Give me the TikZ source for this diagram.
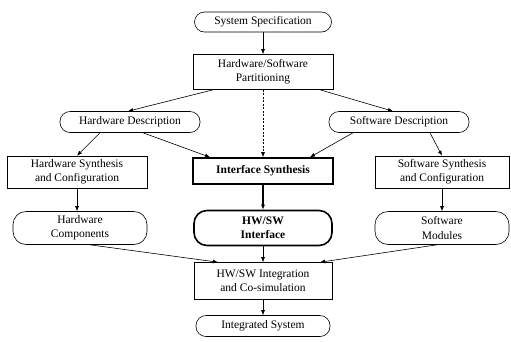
\documentclass[tikz,border=0pt]{standalone}
\usepackage{fontspec}
\setmainfont{Liberation Serif}
\usetikzlibrary{arrows,arrows.meta}

\begin{document}
\begin{tikzpicture}[x=1pt,y=-1pt]
      \tikzstyle{every node}=[draw,align=center,inner sep=0pt,line width=0.6pt,
        font=\fontsize{11.5}{14}\selectfont]
      \tikzstyle{oval}=[rounded corners=10pt]
      \tikzstyle{bigoval}=[rounded corners=13pt]
      \tikzstyle{heavy}=[line width=1.6pt,font=\fontsize{11.5}{14}\selectfont\bfseries]
      \tikzstyle{arr}=[-{Latex[length=5pt,width=4pt]},line width=0.6pt]
      \useasboundingbox (0,0) rectangle (511,341);

      \node[oval,minimum width=137pt,minimum height=20pt] (n1) at (263,22) {System Specification};
      \node[minimum width=140pt,minimum height=35pt] (n2) at (263,72) {Hardware/Software\\Partitioning};
      \node[oval,minimum width=140pt,minimum height=21pt] (n3) at (130,122) {Hardware Description};
      \node[oval,minimum width=140pt,minimum height=21pt] (n4) at (399,122) {Software Description};
      \node[minimum width=140pt,minimum height=32pt] (n5) at (77,172) {Hardware Synthesis\\and Configuration};
      \node[heavy,minimum width=140pt,minimum height=26pt] (n6) at (263,171) {Interface Synthesis};
      \node[minimum width=134pt,minimum height=32pt] (n7) at (442,172) {Software Synthesis\\and Configuration};
      \node[bigoval,minimum width=134pt,minimum height=33pt] (n8) at (80,228) {Hardware\\Components};
      \node[bigoval,heavy,minimum width=138pt,minimum height=35pt] (n9) at (263,228) {HW/SW\\Interface};
      \node[bigoval,minimum width=134pt,minimum height=33pt] (n10) at (442,228) {Software\\Modules};
      \node[minimum width=138pt,minimum height=37pt] (n11) at (263,281) {HW/SW Integration\\and Co-simulation};
      \node[oval,minimum width=134pt,minimum height=21pt] (n12) at (263,326) {Integrated System};

      \draw[arr] (n1) -- (n2);
      \draw[arr] ([xshift=-50pt]n2.south) -- ([xshift=-2pt]n3.north);
      \draw[arr] ([xshift=57pt]n2.south) -- ([xshift=-6pt]n4.north);
      \draw[arr,dash pattern=on 2pt off 1.5pt] (n2) -- (n6);
      \draw[arr] ([xshift=-30pt]n3.south) -- (n5.north);
      \draw[arr] ([xshift=13pt]n3.south) -- ([xshift=-53pt]n6.north);
      \draw[arr] ([xshift=-46pt]n4.south) -- ([xshift=47pt]n6.north);
      \draw[arr] ([xshift=31pt]n4.south) -- (n7.north);
      \draw[arr] (n5.south) -- (n5.south |- n8.north);
      \draw[arr,line width=1.4pt] (n6) -- (n9);
      \draw[arr] (n7) -- (n10);
      \draw[arr] ([xshift=10pt]n8.south) -- ([xshift=-45pt]n11.north);
      \draw[arr] (n9) -- (n11);
      \draw[arr] ([xshift=-5pt]n10.south) -- ([xshift=57pt]n11.north);
      \draw[arr] (n11) -- (n12);
    \end{tikzpicture}
\end{document}
